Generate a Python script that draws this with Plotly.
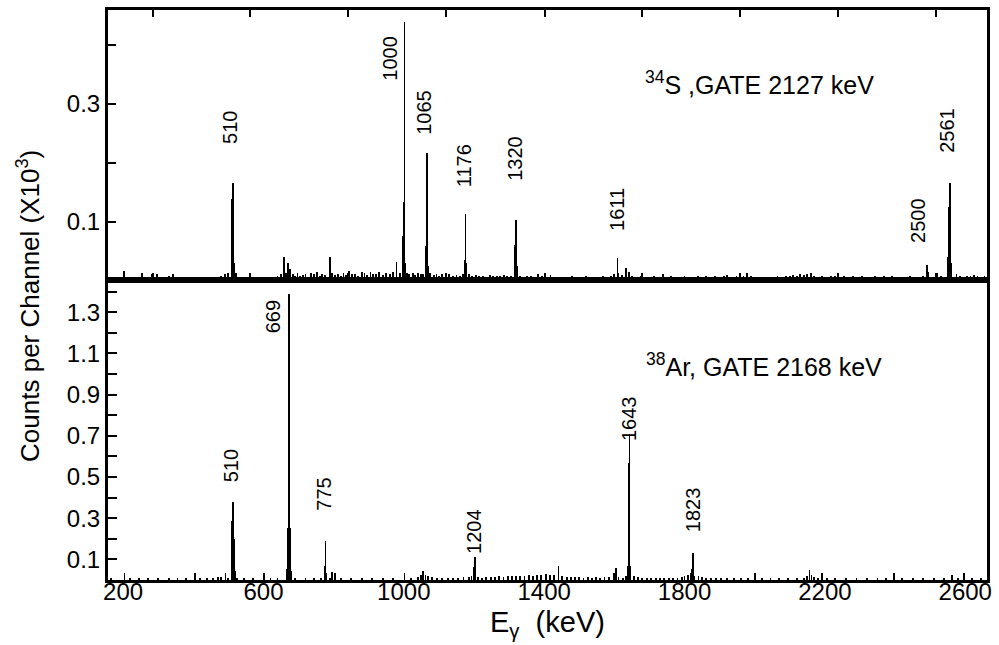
import plotly.graph_objects as go

# ---------------- data (counts per channel, x10^3) ----------------
# top panel: 34S, gate 2127 keV
top_energy = [
    165, 172, 180, 190, 203, 212, 225, 236, 253, 262, 270, 282, 290, 296, 305, 318, 330, 342, 350, 358,
    366, 380, 395, 420, 430, 440, 452, 462, 470, 480, 490, 500,
    509, 511.5, 514, 516.5,
    522, 530, 560, 590, 600, 612, 620, 630, 640, 650, 659, 665, 671, 676, 683, 690, 697, 704, 712, 720,
    728, 736, 744, 752, 760, 768, 776, 789, 795, 803, 812, 820, 828, 836, 845, 853, 862, 870, 880, 888,
    896, 905, 912, 920, 930, 940, 950, 960, 970, 979, 988,
    997, 999.5, 1002, 1004.5,
    1008, 1015, 1025, 1033, 1040, 1048, 1055,
    1062, 1064.5, 1067, 1069.5,
    1075, 1085, 1093, 1100, 1110, 1120, 1130, 1140, 1150, 1160, 1168,
    1173.5, 1176, 1178.5,
    1186, 1195, 1205, 1215, 1225, 1235, 1245, 1255, 1265, 1275, 1285, 1295, 1305,
    1317, 1319.5, 1322,
    1330, 1340, 1350, 1362, 1372, 1383, 1395, 1405, 1418, 1430, 1442, 1455, 1468, 1480, 1492, 1505,
    1518, 1530, 1542, 1555, 1568, 1580, 1590, 1600,
    1609, 1611.5,
    1622, 1634, 1641, 1650, 1662, 1675, 1688, 1700, 1712, 1725, 1738, 1750, 1762, 1775, 1788, 1800,
    1812, 1825, 1838, 1850, 1862, 1875, 1888, 1900, 1912, 1922, 1935, 1948, 1958, 1968, 1978, 1990,
    2002, 2015, 2028, 2040, 2052, 2065, 2078, 2090, 2100, 2110, 2120, 2130, 2140, 2150, 2160, 2170,
    2180, 2192, 2205, 2218, 2230, 2242, 2255, 2268, 2280, 2292, 2305, 2318, 2330, 2342, 2355, 2368,
    2380, 2392, 2405, 2418, 2430, 2442, 2455, 2468, 2480,
    2491, 2493.5,
    2520, 2530,
    2551, 2553.5, 2556, 2558.5,
    2575, 2585, 2595, 2605, 2615, 2625, 2635, 2645, 2655,
]
top_counts = [
    0.006, 0.004, 0.005, 0.003, 0.016, 0.004, 0.005, 0.004, 0.013, 0.006, 0.005, 0.011, 0.006, 0.010, 0.004, 0.005, 0.007, 0.010, 0.006, 0.005,
    0.004, 0.003, 0.004, 0.003, 0.004, 0.005, 0.004, 0.006, 0.005, 0.007, 0.010, 0.012,
    0.028, 0.139, 0.165, 0.030,
    0.012, 0.005, 0.003, 0.004, 0.005, 0.003, 0.006, 0.005, 0.008, 0.010, 0.040, 0.012, 0.030, 0.020, 0.010, 0.008, 0.012, 0.007, 0.009, 0.010,
    0.006, 0.012, 0.010, 0.014, 0.008, 0.011, 0.009, 0.039, 0.012, 0.009, 0.011, 0.007, 0.012, 0.009, 0.016, 0.010, 0.011, 0.008, 0.014, 0.012,
    0.009, 0.015, 0.011, 0.010, 0.014, 0.009, 0.012, 0.010, 0.014, 0.032, 0.012,
    0.076, 0.133, 0.439, 0.030,
    0.012, 0.010, 0.013, 0.009, 0.012, 0.010, 0.011,
    0.059, 0.182, 0.216, 0.025,
    0.012, 0.009, 0.010, 0.008, 0.010, 0.009, 0.010, 0.008, 0.009, 0.007, 0.010,
    0.034, 0.113, 0.030,
    0.010, 0.008, 0.009, 0.007, 0.008, 0.006, 0.009, 0.007, 0.008, 0.007, 0.009, 0.007, 0.008,
    0.061, 0.102, 0.025,
    0.008, 0.006, 0.007, 0.008, 0.006, 0.010, 0.007, 0.006, 0.009, 0.006, 0.005, 0.006, 0.005, 0.007, 0.006, 0.005,
    0.007, 0.005, 0.006, 0.005, 0.007, 0.006, 0.007, 0.010,
    0.038, 0.012,
    0.009, 0.021, 0.015, 0.008, 0.006, 0.007, 0.005, 0.006, 0.008, 0.006, 0.010, 0.006, 0.007, 0.005, 0.006, 0.008,
    0.006, 0.005, 0.007, 0.006, 0.008, 0.006, 0.007, 0.006, 0.007, 0.009, 0.006, 0.007, 0.006, 0.008, 0.012, 0.007,
    0.006, 0.005, 0.006, 0.005, 0.006, 0.007, 0.006, 0.008, 0.007, 0.009, 0.008, 0.010, 0.009, 0.010, 0.012, 0.008,
    0.006, 0.007, 0.006, 0.008, 0.007, 0.006, 0.007, 0.006, 0.008, 0.006, 0.007, 0.006, 0.005, 0.007, 0.006, 0.008,
    0.006, 0.007, 0.005, 0.006, 0.005, 0.007, 0.006, 0.005, 0.008,
    0.026, 0.015,
    0.012, 0.008,
    0.039, 0.124, 0.165, 0.030,
    0.010, 0.007, 0.006, 0.008, 0.007, 0.009, 0.008, 0.006, 0.007,
]

# bottom panel: 38Ar, gate 2168 keV
bot_energy = [
    165, 204, 220, 245, 270, 300, 330, 355, 380, 404, 420, 440, 455, 470, 480, 492, 500,
    509, 511.5, 514, 516.5, 519,
    525, 545, 570, 602, 620, 640,
    668, 670.5, 673, 675.5, 678,
    690, 720, 745, 765,
    774.5, 777, 779.5,
    790, 796, 804, 820, 850, 880, 910, 940, 970, 1002, 1020, 1040, 1048, 1055, 1062, 1070, 1080,
    1095, 1110, 1125, 1140, 1155, 1170, 1185, 1193,
    1199.5, 1202, 1204.5,
    1212, 1222, 1235, 1248, 1260, 1272, 1284, 1296, 1308, 1320, 1332, 1344, 1356, 1368, 1380, 1392,
    1404, 1416, 1428, 1441, 1452, 1464, 1476, 1488, 1500, 1512, 1524, 1536, 1548, 1560, 1572, 1584,
    1598, 1605, 1612, 1625, 1634,
    1638, 1640.5, 1643, 1645.5,
    1655, 1668, 1680, 1692, 1705, 1718, 1730, 1742, 1755, 1768, 1780, 1792, 1800, 1810,
    1818, 1820.5, 1823, 1825.5, 1828,
    1840, 1850, 1862, 1875, 1890, 1905, 1920, 1940, 1960, 1980, 2000, 2020, 2045, 2070, 2095, 2120,
    2140, 2150, 2156, 2162, 2170, 2180, 2192, 2205, 2230, 2260, 2290, 2320, 2350, 2375, 2397, 2420,
    2450, 2480, 2510, 2540, 2562, 2580, 2596, 2620, 2645,
]
bot_counts = [
    0.008, 0.032, 0.006, 0.005, 0.006, 0.005, 0.006, 0.005, 0.006, 0.030, 0.006, 0.008, 0.010, 0.012, 0.015, 0.030, 0.010,
    0.050, 0.285, 0.377, 0.197, 0.040,
    0.010, 0.006, 0.005, 0.030, 0.006, 0.005,
    0.050, 0.253, 1.388, 0.253, 0.040,
    0.006, 0.005, 0.006, 0.006,
    0.067, 0.188, 0.030,
    0.010, 0.035, 0.030, 0.008, 0.006, 0.005, 0.006, 0.005, 0.006, 0.030, 0.006, 0.015, 0.025, 0.040, 0.025, 0.018, 0.012,
    0.010, 0.008, 0.010, 0.008, 0.010, 0.012, 0.015, 0.020,
    0.060, 0.108, 0.030,
    0.015, 0.010, 0.012, 0.014, 0.012, 0.016, 0.014, 0.018, 0.016, 0.020, 0.018, 0.020, 0.022, 0.020, 0.024, 0.022,
    0.026, 0.024, 0.022, 0.067, 0.016, 0.014, 0.012, 0.014, 0.012, 0.010, 0.012, 0.010, 0.011, 0.010, 0.012, 0.015,
    0.030, 0.055, 0.015, 0.010, 0.020,
    0.067, 0.568, 0.705, 0.067,
    0.020, 0.012, 0.010, 0.008, 0.010, 0.008, 0.007, 0.009, 0.008, 0.010, 0.008, 0.012, 0.020, 0.025,
    0.030, 0.051, 0.129, 0.040, 0.020,
    0.020, 0.012, 0.008, 0.007, 0.006, 0.007, 0.006, 0.005, 0.006, 0.005, 0.030, 0.005, 0.006, 0.005, 0.006, 0.008,
    0.010, 0.020, 0.045, 0.025, 0.012, 0.010, 0.030, 0.008, 0.006, 0.005, 0.006, 0.005, 0.006, 0.005, 0.030, 0.006,
    0.005, 0.006, 0.005, 0.006, 0.025, 0.005, 0.030, 0.005, 0.006,
]

# peak labels
top_labels = ["510", "1000", "1065", "1176", "1320", "1611", "2500", "2561"]
top_label_e = [503, 962, 1059, 1170, 1316, 1608, 2467, 2549]
top_label_y = [0.260, 0.378, 0.286, 0.195, 0.208, 0.120, 0.102, 0.255]

bot_labels = ["510", "669", "775", "1204", "1643", "1823"]
bot_label_e = [510, 626, 770, 1202, 1640, 1823]
bot_label_y = [0.556, 1.278, 0.415, 0.237, 0.783, 0.342]

x_ticks = [200, 600, 1000, 1400, 1800, 2200, 2600]
top_minor_x = [284, 563, 841, 1120, 1401, 1679, 1957, 2236, 2516]
top_y_ticks = [0.1, 0.3]
top_y_minor = [0.2, 0.4]
top_right_ticks = [0.05, 0.10, 0.15, 0.20, 0.25, 0.30, 0.35, 0.40, 0.45]
bot_y_ticks = [0.1, 0.3, 0.5, 0.7, 0.9, 1.1, 1.3]
bot_y_minor = [0.2, 0.4, 0.6, 0.8, 1.0, 1.2, 1.4]
bot_right_ticks = [0.1, 0.2, 0.3, 0.4, 0.5, 0.6, 0.7, 0.8, 0.9, 1.0, 1.1, 1.2, 1.3, 1.4]

# ---------------- figure ----------------
FONT = "Liberation Sans, Arial, Helvetica, sans-serif"
XR = [157, 2662]
TOP_R = [0, 0.46]
BOT_R = [0, 1.455]
SPLIT = 0.5257

fig = go.Figure()
fig.add_trace(go.Bar(x=top_energy, y=top_counts, width=2.5, marker=dict(color="black", line=dict(width=0)),
                     xaxis="x", yaxis="y", showlegend=False))
fig.add_trace(go.Bar(x=bot_energy, y=bot_counts, width=2.5, marker=dict(color="black", line=dict(width=0)),
                     xaxis="x2", yaxis="y2", showlegend=False))

axis_common = dict(showgrid=False, zeroline=False, linecolor="black", linewidth=3,
                   tickcolor="black", tickwidth=2,
                   tickfont=dict(family=FONT, size=24, color="black"))

fig.update_layout(
    width=999, height=645,
    margin=dict(l=108, r=7, t=9, b=65),
    paper_bgcolor="white", plot_bgcolor="white",
    barmode="overlay", bargap=0,
    font=dict(family=FONT, color="black"),
    xaxis=dict(domain=[0, 1], anchor="y", range=XR, tickvals=top_minor_x, showticklabels=False,
               ticks="inside", ticklen=7, showline=True, mirror="ticks", **axis_common),
    yaxis=dict(domain=[SPLIT, 1], anchor="x", range=TOP_R, tickvals=top_y_ticks,
               ticks="inside", ticklen=8, showline=True, mirror=True,
               minor=dict(tickvals=top_y_minor, ticks="inside", ticklen=8, tickwidth=2,
                          tickcolor="black", showgrid=False),
               **axis_common),
    yaxis3=dict(overlaying="y", anchor="x", side="right", range=TOP_R, tickvals=top_right_ticks,
                showticklabels=False, ticks="inside", ticklen=5, showline=False, **axis_common),
    xaxis2=dict(domain=[0, 1], anchor="y2", range=XR, tickvals=x_ticks, ticks="", ticklen=0,
                showline=True, mirror=True, ticklabelstandoff=-12, **axis_common),
    xaxis3=dict(overlaying="x2", anchor="y2", side="top", range=XR, tickvals=top_minor_x,
                showticklabels=False, ticks="inside", ticklen=7, showline=False, **axis_common),
    yaxis2=dict(domain=[0, SPLIT], anchor="x2", range=BOT_R, tickvals=bot_y_ticks,
                ticks="inside", ticklen=9, showline=True, mirror=True,
                minor=dict(tickvals=bot_y_minor, ticks="inside", ticklen=9, tickwidth=2,
                           tickcolor="black", showgrid=False),
                **axis_common),
    yaxis4=dict(overlaying="y2", anchor="x2", side="right", range=BOT_R, tickvals=bot_right_ticks,
                showticklabels=False, ticks="inside", ticklen=5, showline=False, **axis_common),
)

ann = []
for t, e, v in zip(top_labels, top_label_e, top_label_y):
    ann.append(dict(x=e, y=v, xref="x", yref="y", text=t, textangle=-90, showarrow=False,
                    xanchor="center", yanchor="middle", font=dict(family=FONT, size=20, color="black")))
for t, e, v in zip(bot_labels, bot_label_e, bot_label_y):
    ann.append(dict(x=e, y=v, xref="x2", yref="y2", text=t, textangle=-90, showarrow=False,
                    xanchor="center", yanchor="middle", font=dict(family=FONT, size=20, color="black")))

ann.append(dict(x=1681, y=0.336, xref="x", yref="y", text="<sup>34</sup>S ,GATE 2127 keV", showarrow=False,
                xanchor="left", yanchor="middle", font=dict(family=FONT, size=25, color="black")))
ann.append(dict(x=1684, y=1.044, xref="x2", yref="y2", text="<sup>38</sup>Ar, GATE 2168 keV", showarrow=False,
                xanchor="left", yanchor="middle", font=dict(family=FONT, size=25, color="black")))

# axis titles
ann.append(dict(x=(28 - 108) / 884, y=(580 - 305) / 571, xref="paper", yref="paper",
                text="Counts per Channel (X10<sup>3</sup>)", textangle=-90, showarrow=False,
                xanchor="center", yanchor="middle", font=dict(family=FONT, size=26, color="black")))
ann.append(dict(x=(550 - 108) / 884, y=(580 - 624) / 571, xref="paper", yref="paper",
                text="E<sub>γ</sub>  (keV)", showarrow=False,
                xanchor="center", yanchor="middle", font=dict(family=FONT, size=29, color="black")))

fig.update_layout(annotations=ann)
fig.write_html("out.html")
